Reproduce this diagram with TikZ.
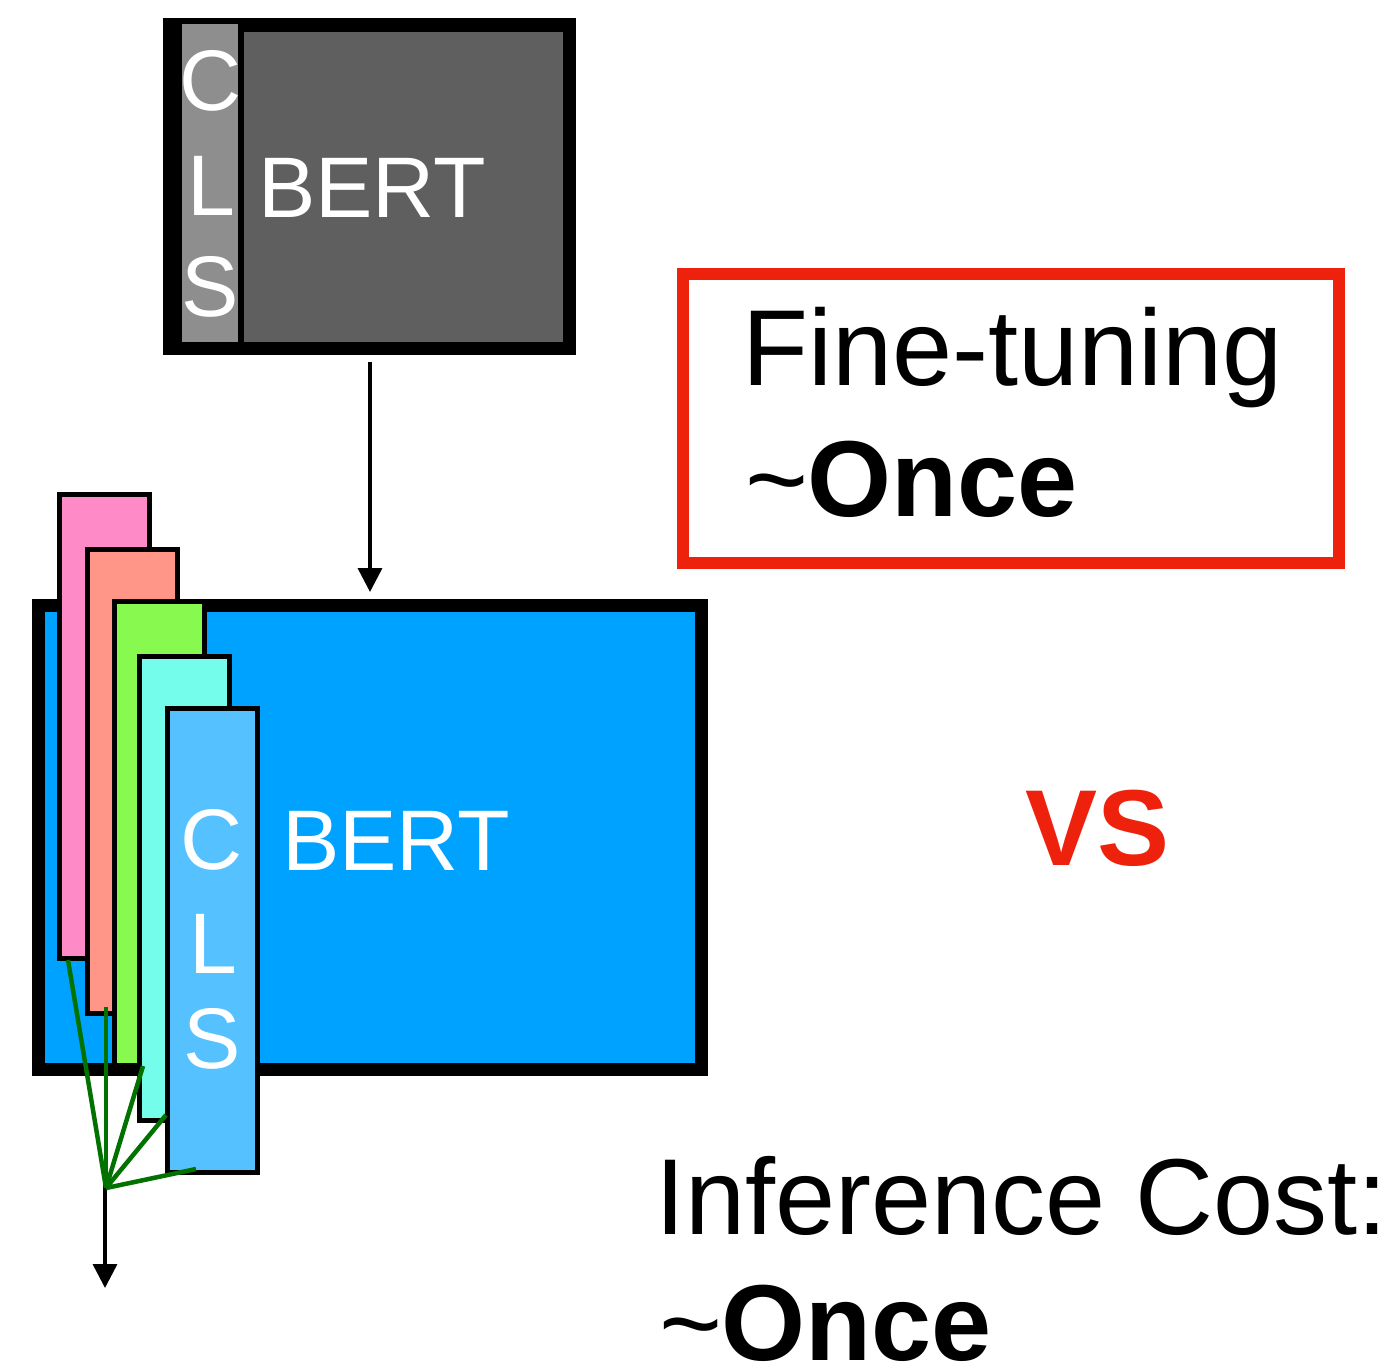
\documentclass[tikz,border=0pt]{standalone}
\usepackage{fontspec}
\setmainfont{Liberation Sans}
\usetikzlibrary{arrows.meta}
\definecolor{dgray}{HTML}{5F5F5F}
\definecolor{lgray}{HTML}{8E8E8E}
\definecolor{bblue}{HTML}{00A2FF}
\definecolor{spink}{HTML}{FF8AC8}
\definecolor{ssalmon}{HTML}{FF9688}
\definecolor{sgreen}{HTML}{88FA4F}
\definecolor{scyan}{HTML}{73FDEA}
\definecolor{slblue}{HTML}{56C1FF}
\definecolor{rred}{HTML}{EE220C}
\definecolor{ggreen}{HTML}{017100}
\newcommand{\thintilde}{{\mdseries\textasciitilde}\kern-1pt}
\begin{document}
\begin{tikzpicture}[x=1pt,y=-1pt,
  plain/.style={inner sep=0pt},
  stripbox/.style={draw=black, line width=5pt, minimum width=90pt, minimum height=464pt, inner sep=0pt},
  bigtext/.style={inner sep=0pt, anchor=base west, font=\fontsize{108}{120}\selectfont},
  bigbold/.style={inner sep=0pt, anchor=base west, font=\fontsize{108}{120}\selectfont\bfseries},
  wtext/.style={text=white, inner sep=0pt, anchor=base, font=\fontsize{86}{96}\selectfont},
  arr/.style={draw=black, line width=3.5pt, -{Triangle[width=24pt,length=24pt]}},
  gline/.style={draw=ggreen, line width=4.5pt}]
\useasboundingbox (0,0) rectangle (1388,1368);

% top BERT box
\node[plain, fill=black, minimum width=413pt, minimum height=337pt] (topbox) at (369.5,186.5) {};
\node[plain, fill=lgray, minimum width=56pt, minimum height=318pt] (topcls) at (210,183) {};
\node[plain, fill=dgray, minimum width=319pt, minimum height=310pt] (topbert) at (403.5,187) {};
\node[wtext, anchor=base west] (tbert) at (258,217) {BERT};
\node[wtext] (tc) at (211,110) {C};
\node[wtext] (tl) at (211,215) {L};
\node[wtext] (ts) at (210,316) {S};

% blue BERT box
\node[plain, draw=black, line width=13pt, fill=bblue, minimum width=663pt, minimum height=464pt] (bluebox) at (370,837.5) {};

% arrow top -> blue
\draw[arr, shorten <=7pt, shorten >=7pt] (topbox.south -| bluebox.north) -- (bluebox.north);

% stacked strips
\node[stripbox, fill=spink] (s1) at (104.5,726.5) {};
\node[stripbox, fill=ssalmon] (s2) at (132,781) {};
\node[stripbox, fill=sgreen] (s3) at (159,833.5) {};
\node[stripbox, fill=scyan] (s4) at (184.5,888.5) {};
\node[stripbox, fill=slblue] (s5) at (212,940) {};

\node[wtext, anchor=base west] (bbert) at (282,870) {BERT};
\node[wtext] (bc) at (212,869) {C};
\node[wtext] (bl) at (213,973) {L};
\node[wtext] (bs) at (212.5,1068) {S};

% output arrow and green aggregation lines
\coordinate (outtop) at (105,1168);
\coordinate (outtip) at (105,1288);
\draw[arr] (outtop) -- (outtip);
\coordinate (hub) at (106,1188);
\coordinate (g1) at (68,960);
\coordinate (g2) at (106,1007);
\coordinate (g3) at (143,1066);
\coordinate (g4) at (166,1115);
\coordinate (g5) at (196,1169);
\draw[gline] (g1) -- (hub);
\draw[gline] (g2) -- (hub);
\draw[gline] (g3) -- (hub);
\draw[gline] (g4) -- (hub);
\draw[gline] (g5) -- (hub);

% fine-tuning box
\node[plain, draw=rred, line width=12pt, minimum width=656pt, minimum height=289pt] (ftbox) at (1011,418.5) {};
\node[bigtext] (ft) at (742,385) {Fine-tuning};
\node[bigbold] (once1) at (745,516) {\thintilde Once};

% VS
\node[bigbold, text=rred] (vs) at (1025,865) {VS};

% inference cost
\node[bigtext] (inf) at (655,1234) {Inference Cost:};
\node[bigbold] (once2) at (659,1360) {\thintilde Once};
\end{tikzpicture}
\end{document}
